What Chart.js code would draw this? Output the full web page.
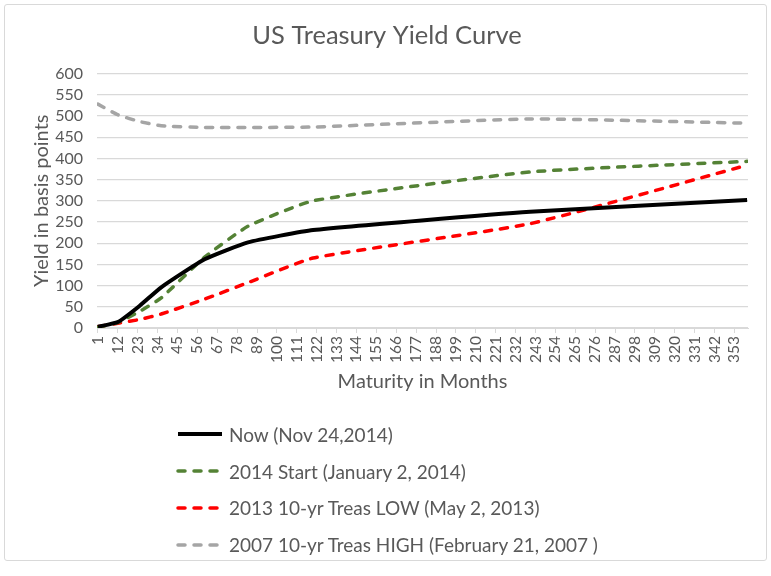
<!DOCTYPE html>
<html>
<head>
<meta charset="utf-8">
<title>US Treasury Yield Curve</title>
<script src="https://cdn.jsdelivr.net/npm/chart.js"></script>
<style>
    body { margin: 0; background: #fff; }
    .wrap { position: relative; width: 771px; height: 576px; }
    .frame { position: absolute; left: 4px; top: 4px; width: 763px; height: 557px; border: 1px solid #d9d9d9; border-radius: 3px; box-sizing: border-box; pointer-events: none; }
    #legend { position: absolute; left: 176px; top: 416px; font-family: Lato, sans-serif; font-size: 19px; color: #595959; }
    #legend .item { height: 36.8px; display: flex; align-items: center; }
    #legend svg { margin-right: 5px; }
</style>
</head>
<body>
<div class="wrap">
    <canvas id="chart" width="771" height="576"></canvas>
    <div class="frame"></div>
    <div id="legend"></div>
</div>
<script>
// maturities in months where the yields were read
var months = [1, 12, 24, 36, 60, 84, 120, 240, 360];

// yields in basis points
var nowYields = [3, 14, 52, 96, 162, 202, 231, 274, 302];
var start2014 = [2, 13, 39, 71, 167, 240, 300, 368, 393];
var low2013 = [3, 11, 20, 33, 68, 107, 165, 246, 384];
var high2007 = [528, 503, 487, 477, 473, 473, 474, 493, 483];

var monthTicks = [1, 12, 23, 34, 45, 56, 67, 78, 89, 100, 111, 122, 133, 144, 155, 166, 177,
    188, 199, 210, 221, 232, 243, 254, 265, 276, 287, 298, 309, 320, 331, 342, 353];

var textColor = "#595959";
var gridColor = "#d9d9d9";

Chart.defaults.font.family = "Lato, sans-serif";
Chart.defaults.color = textColor;

var toPoints = function(values) {
    return months.map(function(m, i) {
        return {x: m, y: values[i]};
    });
};

var makeSet = function(label, values, color, dashed) {
    return {
        label: label,
        data: toPoints(values),
        borderColor: color,
        backgroundColor: color,
        borderWidth: dashed ? 3.5 : 4,
        borderDash: dashed ? [7, 9] : [],
        borderCapStyle: dashed ? "round" : "butt",
        pointRadius: 0,
        tension: 0.15,
        fill: false
    };
};

var chart = new Chart("chart", {
    type: "line",
    data: {
        datasets: [
            makeSet("Now (Nov 24,2014)", nowYields, "#000000", false),
            makeSet("2014 Start (January 2, 2014)", start2014, "#548235", true),
            makeSet("2013 10-yr Treas LOW (May 2, 2013)", low2013, "#ff0000", true),
            makeSet("2007 10-yr Treas HIGH (February 21, 2007 )", high2007, "#a5a5a5", true)
        ]
    },
    options: {
        responsive: false,
        animation: false,
        devicePixelRatio: 1,
        layout: {
            // right side room comes from the spacer axis so the title stays centred
            padding: {left: 3, right: 0, top: 0, bottom: 182}
        },
        plugins: {
            legend: {display: false},
            tooltip: {enabled: false},
            title: {
                display: true,
                text: "US Treasury Yield Curve",
                color: textColor,
                font: {size: 25.5, weight: "normal"},
                padding: {top: 20, bottom: 23}
            }
        },
        scales: {
            x: {
                type: "linear",
                min: 0.5,
                max: 360.5,
                afterBuildTicks: function(axis) {
                    axis.ticks = monthTicks.map(function(m) {
                        return {value: m};
                    });
                },
                ticks: {
                    autoSkip: false,
                    minRotation: 90,
                    maxRotation: 90,
                    padding: 3,
                    font: {size: 15.5},
                    color: textColor
                },
                grid: {drawOnChartArea: false, tickLength: 5, color: gridColor},
                border: {color: gridColor, width: 1},
                title: {
                    display: true,
                    text: "Maturity in Months",
                    font: {size: 20},
                    color: textColor,
                    padding: {top: 0, bottom: 0}
                },
                afterFit: function(scale) {
                    scale.height = 66;
                }
            },
            y: {
                min: 0,
                max: 600,
                ticks: {stepSize: 50, autoSkip: false, padding: 14, font: {size: 16}, color: textColor},
                grid: {color: gridColor, drawTicks: false, lineWidth: 1.3},
                border: {display: false},
                title: {
                    display: true,
                    text: "Yield in basis points",
                    font: {size: 20},
                    color: textColor,
                    padding: {top: 27, bottom: 4}
                },
                afterFit: function(scale) {
                    scale.width = 94;
                }
            },
            spacer: {
                type: "linear",
                position: "right",
                ticks: {display: false},
                grid: {display: false},
                border: {display: false},
                afterFit: function(scale) {
                    scale.width = 23;
                }
            }
        }
    }
});

// legend stacked one per row, like the spreadsheet one
var legendEl = document.getElementById("legend");
chart.data.datasets.forEach(function(ds) {
    var row = document.createElement("div");
    row.className = "item";
    var dash = ds.borderDash.length ? ' stroke-dasharray="' + ds.borderDash.join(",") + '"' : "";
    row.innerHTML = '<svg width="48" height="10"><line x1="2" y1="5" x2="46" y2="5" stroke="' + ds.borderColor +
        '" stroke-width="' + ds.borderWidth + '" stroke-linecap="' + ds.borderCapStyle + '"' + dash + '/></svg>' +
        '<span>' + ds.label + '</span>';
    legendEl.appendChild(row);
});
</script>
</body>
</html>
